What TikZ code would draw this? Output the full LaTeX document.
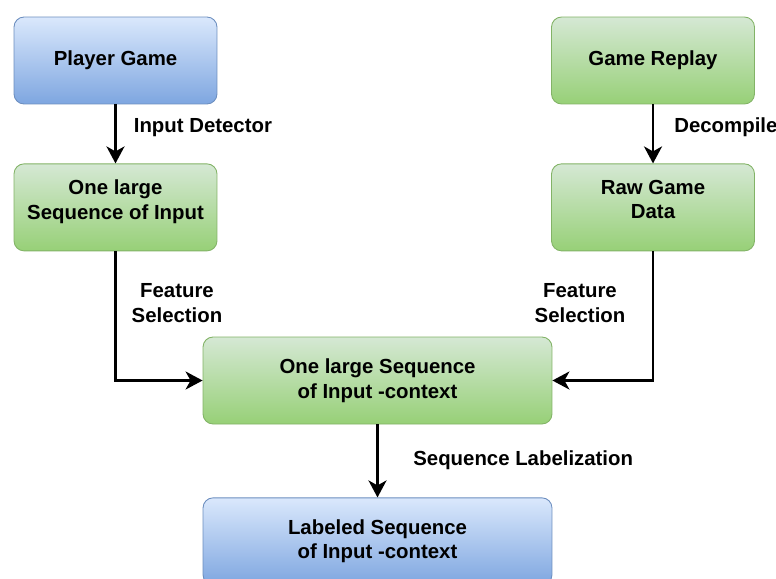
\documentclass[tikz,border=0pt]{standalone}
\usepackage{fontspec}
\setmainfont{Liberation Sans}
\usepackage{tikz}
\usetikzlibrary{calc,arrows.meta}

\definecolor{bluetop}{HTML}{DAE8FC}
\definecolor{bluebot}{HTML}{7EA6E0}
\definecolor{blueline}{HTML}{6C8EBF}
\definecolor{greentop}{HTML}{D5E8D4}
\definecolor{greenbot}{HTML}{97D077}
\definecolor{greenline}{HTML}{82B366}

\tikzset{
  box/.style={rounded corners=0.2cm,line width=0.5pt,minimum width=4.06cm,minimum height=1.74cm,
    align=center,font=\fontsize{11.6}{14}\selectfont\bfseries,inner sep=0pt},
  bluebox/.style={box,draw=blueline,top color=bluetop,bottom color=bluebot},
  greenbox/.style={box,draw=greenline,top color=greentop,bottom color=greenbot},
  flow/.style={line width=1.5pt,-{Stealth[length=0.34cm,width=0.36cm,inset=0.1cm]}},
  lbl/.style={align=center,font=\fontsize{11.6}{14}\selectfont\bfseries,inner sep=0pt}
}

\begin{document}
\begin{tikzpicture}[x=0.02cm,y=-0.02cm]
\useasboundingbox (0,0) rectangle (776,578);
\node[bluebox] at (115.5,60.5) (game) {Player Game};
\node[greenbox,anchor=north,text depth=0.32cm] at ($(game.south)+(0,59)$) (seq) {One large\\Sequence of Input};
\node[greenbox] at (653,60.5) (replay) {Game Replay};
\node[greenbox,anchor=north,text depth=0.32cm] at ($(replay.south)+(0,59)$) (raw) {Raw Game\\Data};
\node[greenbox,minimum width=6.98cm] at (377.5,380.5) (ctx) {One large Sequence\\of Input -context};
\node[bluebox,minimum width=6.98cm,anchor=north] at ($(ctx.south)+(0,73)$) (lab) {Labeled Sequence\\of Input -context};

\draw[flow] (game) -- (seq);
\draw[flow] (replay) -- (raw);
\draw[flow] (seq.south) |- (ctx.west);
\draw[flow] (raw.south) |- (ctx.east);
\draw[flow] (ctx) -- (lab);

\node[lbl,anchor=west] at ($(game.south)!0.5!(seq.north)+(18,-6.5)$) (det) {Input Detector};
\node[lbl,anchor=west] at ($(replay.south)!0.5!(raw.north)+(21,-6.5)$) (dec) {Decompile};
\node[lbl] at ($(seq.south)+(61.5,52)$) (fsl) {Feature\\Selection};
\node[lbl] at ($(raw.south)+(-73,52)$) (fsr) {Feature\\Selection};
\node[lbl,anchor=west] at ($(ctx.south)+(35.5,36)$) (slab) {Sequence Labelization};
\end{tikzpicture}
\end{document}
